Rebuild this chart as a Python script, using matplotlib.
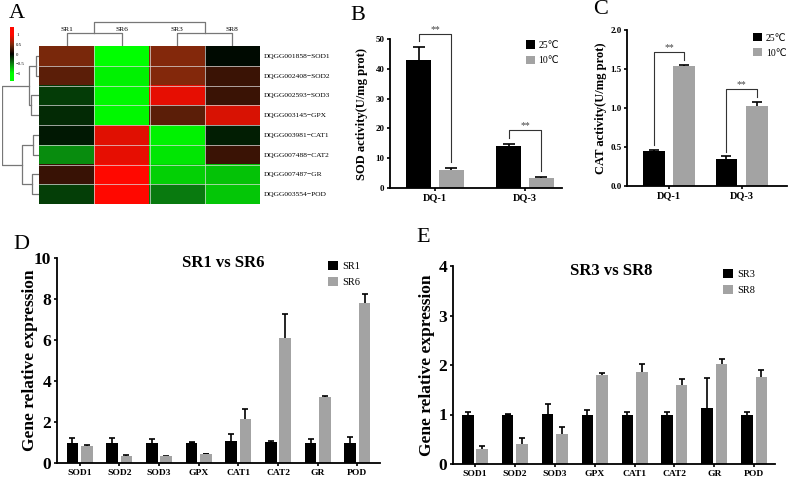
import matplotlib
matplotlib.use('Agg')
import matplotlib.pyplot as plt
import numpy as np
from matplotlib.colors import LinearSegmentedColormap

plt.rcParams['font.family'] = ['Liberation Serif', 'DejaVu Sans']

# ---- data ----
genes = ['DQGG001858−SOD1', 'DQGG002408−SOD2', 'DQGG002593−SOD3', 'DQGG003145−GPX',
         'DQGG003981−CAT1', 'DQGG007488−CAT2', 'DQGG007487−GR', 'DQGG003554−POD']
samples = ['SR1', 'SR6', 'SR3', 'SR8']
hm_SR1 = [0.48, 0.36, -0.24, -0.17, -0.10, -0.55, 0.22, -0.25]
hm_SR6 = [-1.0, -0.95, -0.97, -0.97, 0.88, 0.90, 1.0, 1.0]
hm_SR3 = [0.52, 0.52, 0.90, 0.36, -0.95, -0.90, -0.82, -0.48]
hm_SR8 = [-0.04, 0.23, 0.23, 0.85, -0.12, 0.23, -0.76, -0.78]
# linkage: (a, b, height), nodes >= n are earlier merges
row_merges = [(0, 1, 3), (2, 3, 8), (8, 9, 10), (4, 5, 6), (6, 7, 7), (11, 12, 17), (10, 13, 37)]
col_merges = [(0, 1, 13), (2, 3, 13), (4, 5, 24)]

strains = ['DQ-1', 'DQ-3']
temps = ['25℃', '10℃']
sod_25 = [43.0, 14.1]
sod_25_err = [4.2, 0.8]
sod_10 = [6.2, 3.4]
sod_10_err = [0.5, 0.4]
cat_25 = [0.45, 0.345]
cat_25_err = [0.015, 0.035]
cat_10 = [1.54, 1.025]
cat_10_err = [0.015, 0.055]

enzymes = ['SOD1', 'SOD2', 'SOD3', 'GPX', 'CAT1', 'CAT2', 'GR', 'POD']
sr1 = [1.0, 1.0, 1.0, 1.0, 1.06, 1.03, 1.0, 1.0]
sr1_err = [0.2, 0.2, 0.19, 0.01, 0.35, 0.04, 0.17, 0.25]
sr6 = [0.84, 0.34, 0.32, 0.45, 2.16, 6.08, 3.24, 7.8]
sr6_err = [0.06, 0.06, 0.02, 0.01, 0.46, 1.19, 0.05, 0.42]
sr3 = [1.0, 1.0, 1.02, 1.0, 1.0, 1.0, 1.14, 1.0]
sr3_err = [0.05, 0.02, 0.2, 0.09, 0.05, 0.05, 0.59, 0.05]
sr8 = [0.31, 0.41, 0.61, 1.8, 1.86, 1.6, 2.02, 1.76]
sr8_err = [0.06, 0.12, 0.13, 0.04, 0.17, 0.12, 0.11, 0.13]

W, H = 796, 480
GRAY = '#a3a3a3'

fig = plt.figure(figsize=(W / 100, H / 100), dpi=100)


def px_axes(x0, y0, x1, y1):
  return fig.add_axes([x0 / W, 1 - y1 / H, (x1 - x0) / W, (y1 - y0) / H])


def dendro(ax, merges, n, vertical):
  pos = {i: float(i) for i in range(n)}
  hgt = {i: 0.0 for i in range(n)}
  for k, (a, b, h) in enumerate(merges):
    xs = [pos[a], pos[a], pos[b], pos[b]]
    ys = [hgt[a], h, h, hgt[b]]
    if vertical:
      ax.plot(xs, ys, color='#777777', lw=0.9)
    else:
      ax.plot(ys, xs, color='#777777', lw=0.9)
    pos[n + k] = (pos[a] + pos[b]) / 2
    hgt[n + k] = h
  ax.axis('off')


# ---- A: heatmap ----
cmap = LinearSegmentedColormap.from_list(
  'gkr', [(0, '#00ff00'), (0.25, '#0a7f10'), (0.5, '#000000'),
          (0.75, '#7e2a0c'), (1, '#ff0800')])
data = np.column_stack([hm_SR1, hm_SR6, hm_SR3, hm_SR8])

axh = px_axes(39, 46, 260, 204)
axh.imshow(data, cmap=cmap, vmin=-1, vmax=1, aspect='auto', interpolation='nearest')
for i in range(1, len(genes)):
  axh.axhline(i - 0.5, color='#dddddd', lw=0.5)
for j in range(1, len(samples)):
  axh.axvline(j - 0.5, color='#dddddd', lw=0.5)
axh.set_xticks([])
axh.yaxis.tick_right()
axh.set_yticks(range(len(genes)))
axh.set_yticklabels(genes, fontsize=5.4)
axh.tick_params(length=0, pad=3)
for s in axh.spines.values():
  s.set_visible(False)

axr = px_axes(2, 46, 39, 204)
dendro(axr, row_merges, len(genes), vertical=False)
axr.set_xlim(37, 0)
axr.set_ylim(len(genes) - 0.5, -0.5)

axc = px_axes(39, 18, 260, 46)
dendro(axc, col_merges, len(samples), vertical=True)
axc.set_xlim(-0.5, len(samples) - 0.5)
axc.set_ylim(0, 28)
for i, s in enumerate(samples):
  axc.text(i, 13.8, s, ha='center', va='bottom', fontsize=5.4)

axcb = px_axes(10, 27, 14, 81)
axcb.imshow(np.linspace(-1.4, 1.4, 200)[:, None], cmap=cmap, vmin=-1, vmax=1,
            aspect='auto', origin='lower', extent=[0, 1, -1.4, 1.4])
axcb.set_xticks([])
axcb.yaxis.tick_right()
axcb.set_yticks([1, 0.5, 0, -0.5, -1])
axcb.set_yticklabels(['1', '0.5', '0', '−0.5', '−1'], fontsize=3.5)
axcb.tick_params(length=0, pad=1.5)
for s in axcb.spines.values():
  s.set_visible(False)


# ---- bar panels ----
def style(ax, ysize, xsize):
  for s in ['top', 'right']:
    ax.spines[s].set_visible(False)
  for s in ['left', 'bottom']:
    ax.spines[s].set_linewidth(1.3)
  ax.tick_params(direction='out', length=2.5, width=1.2, pad=1.5)
  for lbl in ax.get_yticklabels():
    lbl.set_fontweight('bold')
    lbl.set_fontsize(ysize)
  for lbl in ax.get_xticklabels():
    lbl.set_fontweight('bold')
    lbl.set_fontsize(xsize)


def pair_bars(ax, cats, v1, e1, v2, e2, labels, w, off, cap):
  x = np.arange(len(cats))
  ax.bar(x - off, v1, w, color='black', zorder=2, label=labels[0])
  ax.bar(x + off, v2, w, color=GRAY, zorder=2, label=labels[1])
  for xs, v, e in [(x - off, v1, e1), (x + off, v2, e2)]:
    ax.errorbar(xs, v, yerr=e, fmt='none', ecolor='black', elinewidth=1.2,
                capsize=cap, capthick=1.2, zorder=1)
  ax.set_xticks(x)
  ax.set_xticklabels(cats)
  return x


def bracket(ax, x1, x2, y1, y2, pad, h):
  top = max(y1, y2) + pad + h
  ax.plot([x1, x1, x2, x2], [y1 + pad, top, top, y2 + pad], color='#333333', lw=0.8,
          clip_on=False)
  ax.text((x1 + x2) / 2, top, '**', ha='center', va='bottom', fontsize=7,
          color='#444444', clip_on=False)


def legend(ax, anchor, size):
  ax.legend(frameon=False, loc='upper left', bbox_to_anchor=anchor, borderaxespad=0,
            borderpad=0, handlelength=0.9, handleheight=0.9, handletextpad=0.4,
            labelspacing=0.6, fontsize=size)


# B
axB = px_axes(390, 39, 562, 188)
x = pair_bars(axB, strains, sod_25, sod_25_err, sod_10, sod_10_err, temps, 0.28, 0.18, 4.3)
axB.set_xlim(-0.5, 1.41)
axB.set_ylim(0, 50)
axB.set_yticks(range(0, 51, 10))
for i in range(len(strains)):
  bracket(axB, x[i] - 0.18, x[i] + 0.18, sod_25[i] + sod_25_err[i],
          sod_10[i] + sod_10_err[i], 2.0, 2.4)
axB.set_ylabel('SOD activity(U/mg prot)', fontsize=9, fontweight='bold')
axB.yaxis.set_label_coords(-0.125, 0.5)
style(axB, 6.5, 7.5)
legend(axB, (0.79, 0.99), 7)

# C
axC = px_axes(627, 30, 787, 186)
x = pair_bars(axC, strains, cat_25, cat_25_err, cat_10, cat_10_err, temps, 0.3, 0.21, 3.8)
axC.set_xlim(-0.575, 1.62)
axC.set_ylim(0, 2)
axC.set_yticks([0, 0.5, 1.0, 1.5, 2.0])
axC.set_yticklabels(['0.0', '0.5', '1.0', '1.5', '2.0'])
for i in range(len(strains)):
  bracket(axC, x[i] - 0.21, x[i] + 0.21, cat_25[i] + cat_25_err[i],
          cat_10[i] + cat_10_err[i], 0.06, 0.1)
axC.set_ylabel('CAT activity(U/mg prot)', fontsize=9, fontweight='bold')
axC.yaxis.set_label_coords(-0.125, 0.5)
style(axC, 6.5, 7.5)
legend(axC, (0.79, 0.98), 7)

# D
axD = px_axes(57, 258, 380, 463)
pair_bars(axD, enzymes, sr1, sr1_err, sr6, sr6_err, ['SR1', 'SR6'], 0.29, 0.18, 2.3)
axD.set_xlim(-0.57, 7.57)
axD.set_ylim(0, 10)
axD.set_yticks(range(0, 11, 2))
axD.set_ylabel('Gene relative expression', fontsize=12.5, fontweight='bold')
axD.yaxis.set_label_coords(-0.06, 0.5)
axD.text(0.514, 0.976, 'SR1 vs SR6', transform=axD.transAxes, ha='center', va='center',
         fontsize=12, fontweight='bold')
style(axD, 12.5, 6.8)
legend(axD, (0.84, 0.985), 7.5)

# E
axE = px_axes(453, 266, 775, 464)
pair_bars(axE, enzymes, sr3, sr3_err, sr8, sr8_err, ['SR3', 'SR8'], 0.29, 0.18, 2.3)
axE.set_xlim(-0.55, 7.52)
axE.set_ylim(0, 4)
axE.set_yticks(range(0, 5))
axE.set_ylabel('Gene relative expression', fontsize=12.5, fontweight='bold')
axE.yaxis.set_label_coords(-0.055, 0.5)
axE.text(0.49, 0.975, 'SR3 vs SR8', transform=axE.transAxes, ha='center', va='center',
         fontsize=12, fontweight='bold')
style(axE, 12.5, 6.8)
legend(axE, (0.84, 0.985), 7.5)

# panel letters
for letter, (lx, ly) in zip('ABCDE', [(17, 13), (358, 15), (601, 10), (21, 245), (423, 238)]):
  fig.text(lx / W, 1 - ly / H, letter, ha='center', va='center', fontsize=16)

fig.savefig('out.png', dpi=100)
